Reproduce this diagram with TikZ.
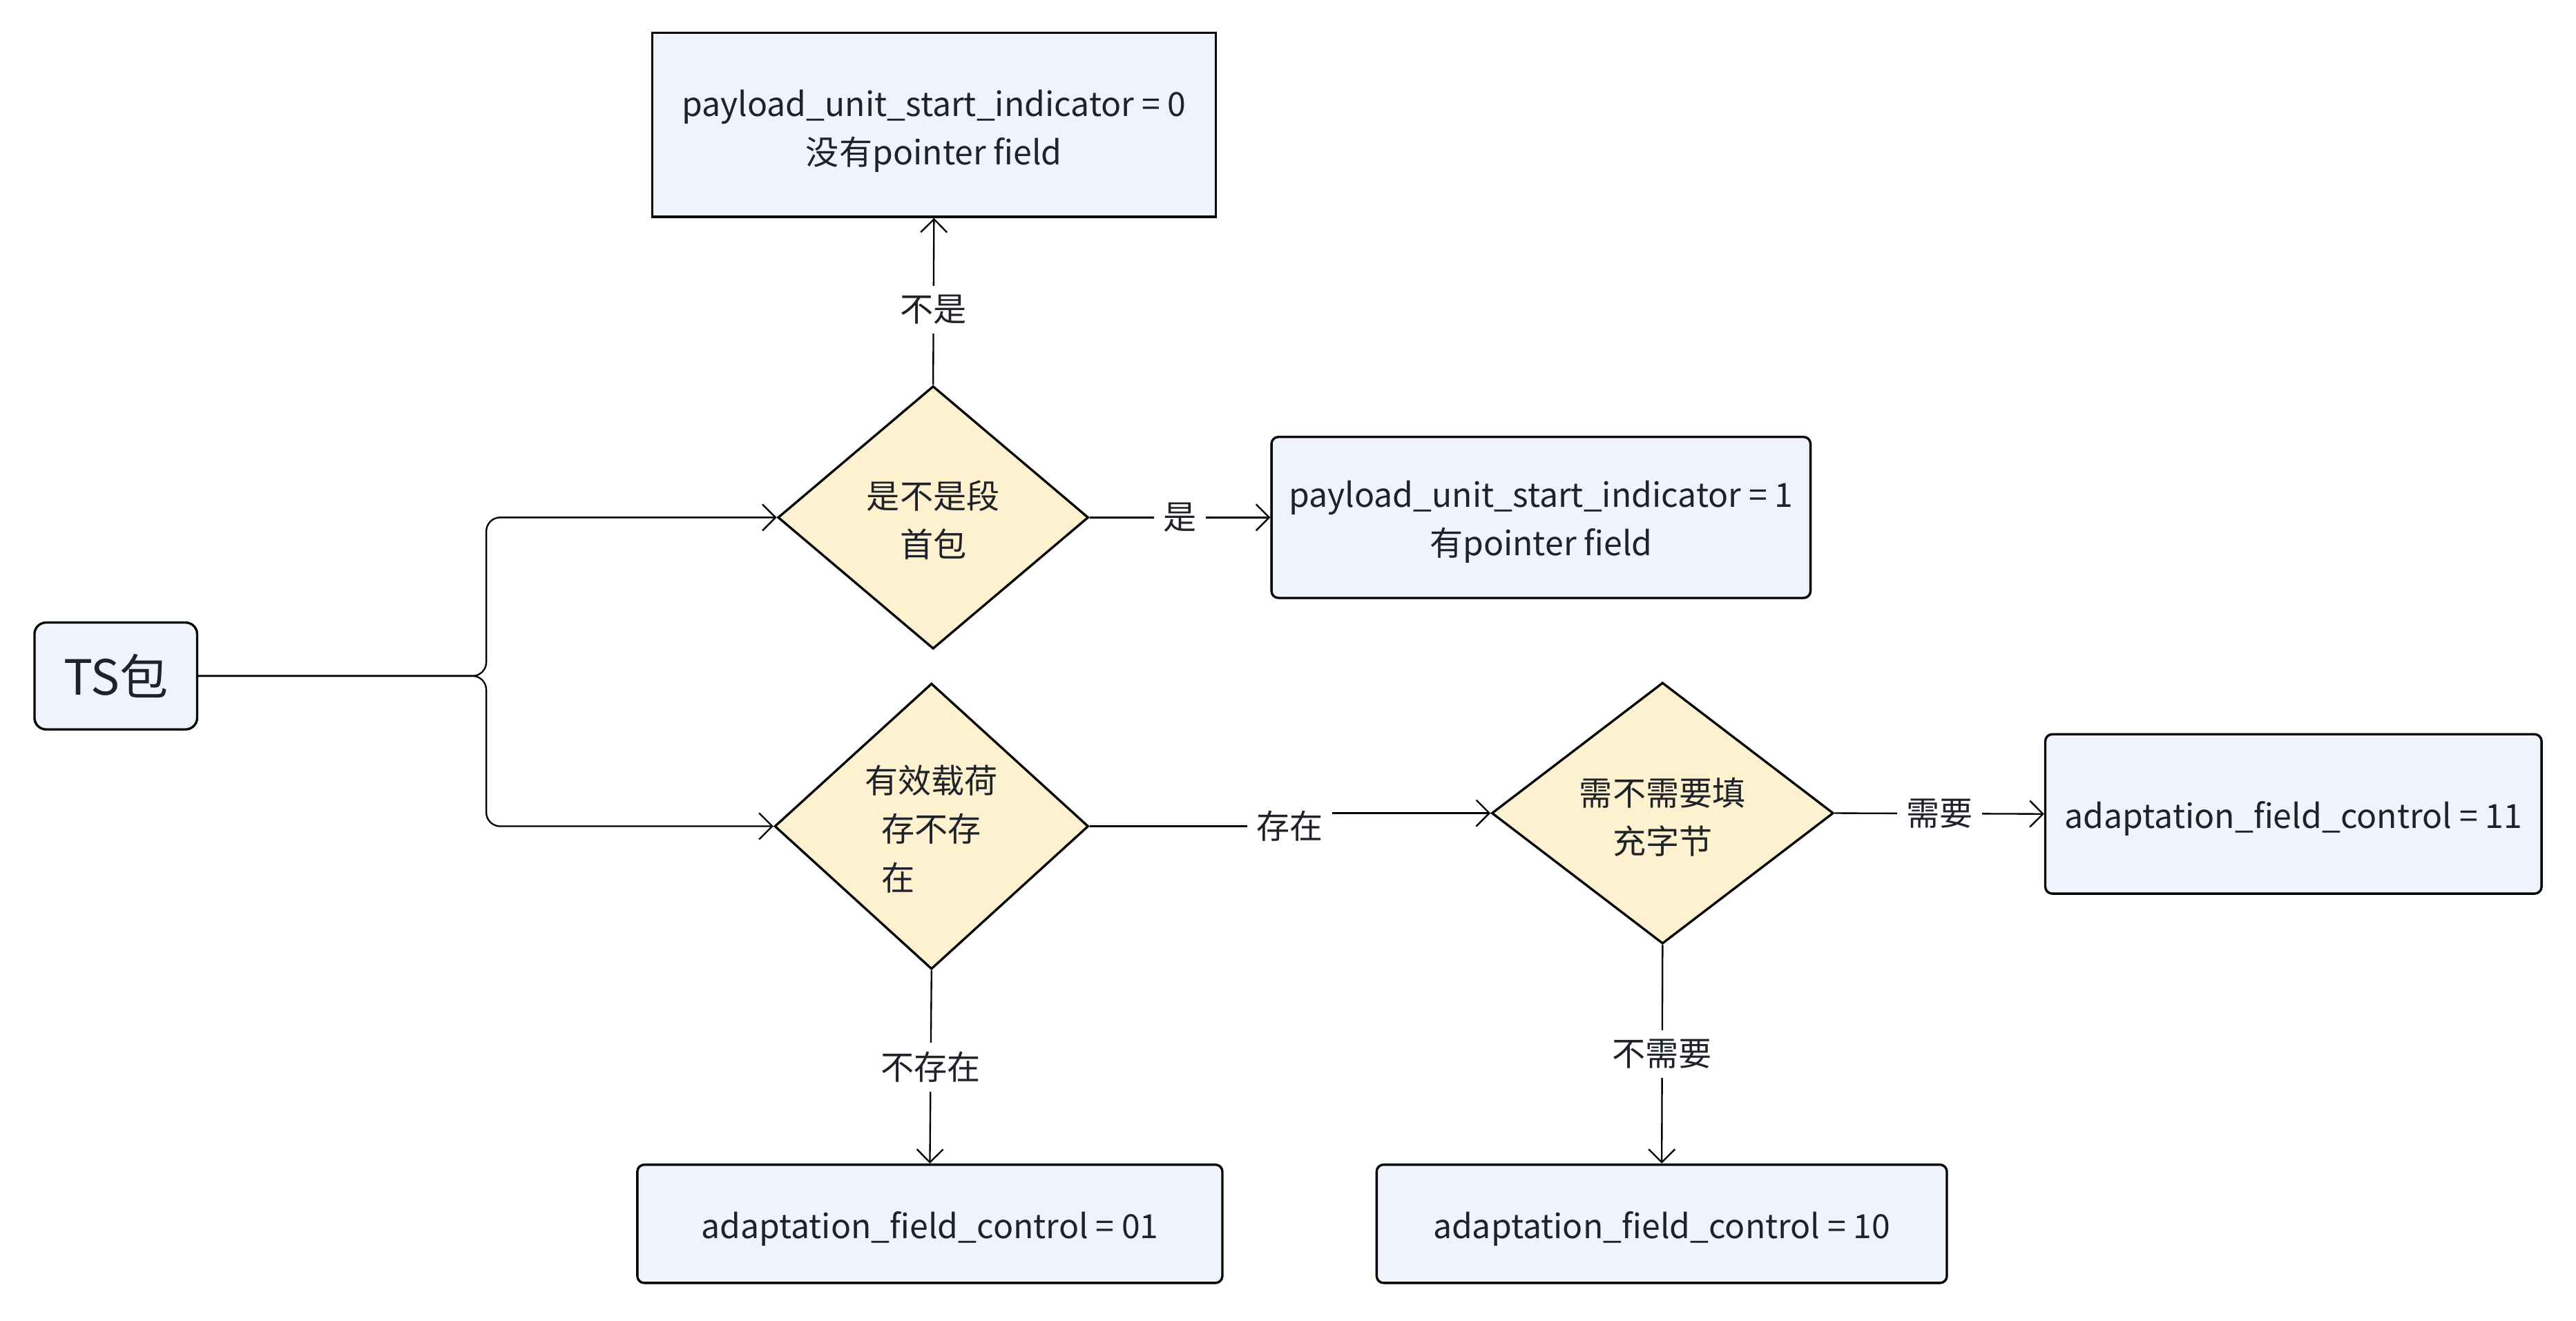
\documentclass[tikz,border=0pt]{standalone}
\usepackage{fontspec}
\setmainfont{Noto Sans CJK SC}
\usetikzlibrary{shapes.geometric,arrows.meta}
\definecolor{boxfill}{HTML}{EEF3FD}
\definecolor{decfill}{HTML}{FDF1D0}
\definecolor{ink}{HTML}{1F2329}

\begin{document}
\begin{tikzpicture}[
	x=0.025cm, y=-0.025cm,
	every node/.style={font=\fontsize{14.4}{21}\selectfont, text=ink},
	lift/.style={execute at begin node={\rule{0pt}{#1}}},
	box/.style={draw, line width=1pt, fill=boxfill, rounded corners=3pt, align=center, inner sep=0pt, lift=16pt},
	dec/.style={diamond, draw, line width=1pt, fill=decfill, align=center, inner sep=0pt},
	flow/.style={-{Straight Barb[length=2mm,width=4mm]}, line width=0.7pt},
	tag/.style={fill=white, inner sep=4pt}
]
\useasboundingbox (0,0) rectangle (1568,804);

% Start
\node[box, rounded corners=5pt, minimum width=2.475cm, minimum height=1.625cm,
	font=\fontsize{21}{24}\selectfont, lift=0pt] (ts) at (70.5,411.5) {TS包};
\coordinate (fork) at (296,411.5);

% Decisions
\node[dec, minimum width=4.725cm, minimum height=4cm, lift=35.3pt] (d1) at (568,315) {是不是段\\首包};
\node[dec, minimum width=4.775cm, minimum height=4.35cm, lift=56.5pt] (d2) at (567,503) {有效载荷\\存不存\\在\hphantom{不存}};
\node[dec, minimum width=5.2cm, minimum height=3.975cm, lift=36.7pt] (d3) at (1012,495) {需不需要填\\充字节};

% Results
\node[box, sharp corners, minimum width=8.575cm, minimum height=2.8cm, lift=38pt] (pus0) at (568.5,76)
	{payload\_unit\_start\_indicator = 0\\没有pointer field};
\node[box, minimum width=8.2cm, minimum height=2.45cm, lift=36.5pt] (pus1) at (938,315)
	{payload\_unit\_start\_indicator = 1\\有pointer field};
\node[box, minimum width=7.55cm, minimum height=2.425cm] (af11) at (1396,495.5) {adaptation\_field\_control = 11};
\node[box, minimum width=8.9cm, minimum height=1.8cm] (af01) at (566,745) {adaptation\_field\_control = 01};
\node[box, minimum width=8.675cm, minimum height=1.8cm] (af10) at (1011.5,745) {adaptation\_field\_control = 10};

% Edges
\draw[flow, rounded corners=6pt] (ts.east) -- (fork) |- (d1.west);
\draw[flow, rounded corners=6pt] (ts.east) -- (fork) |- (d2.west);
\draw[flow] (d1.north) -- node[tag, pos=0.45] {不是} (pus0.south);
\draw[flow] (d1.east) -- node[tag] {是} (pus1.west);
\coordinate (jog) at (785,503);
\draw[flow] (d2.east) -- (jog) node[tag] {存在} |- (d3.west);
\draw[flow] (d3.east) -- node[tag] {需要} (af11.west);
\draw[flow] (d2.south) -- node[tag] {不存在} (af01.north);
\draw[flow] (d3.south) -- node[tag] {不需要} (af10.north);
\end{tikzpicture}
\end{document}
